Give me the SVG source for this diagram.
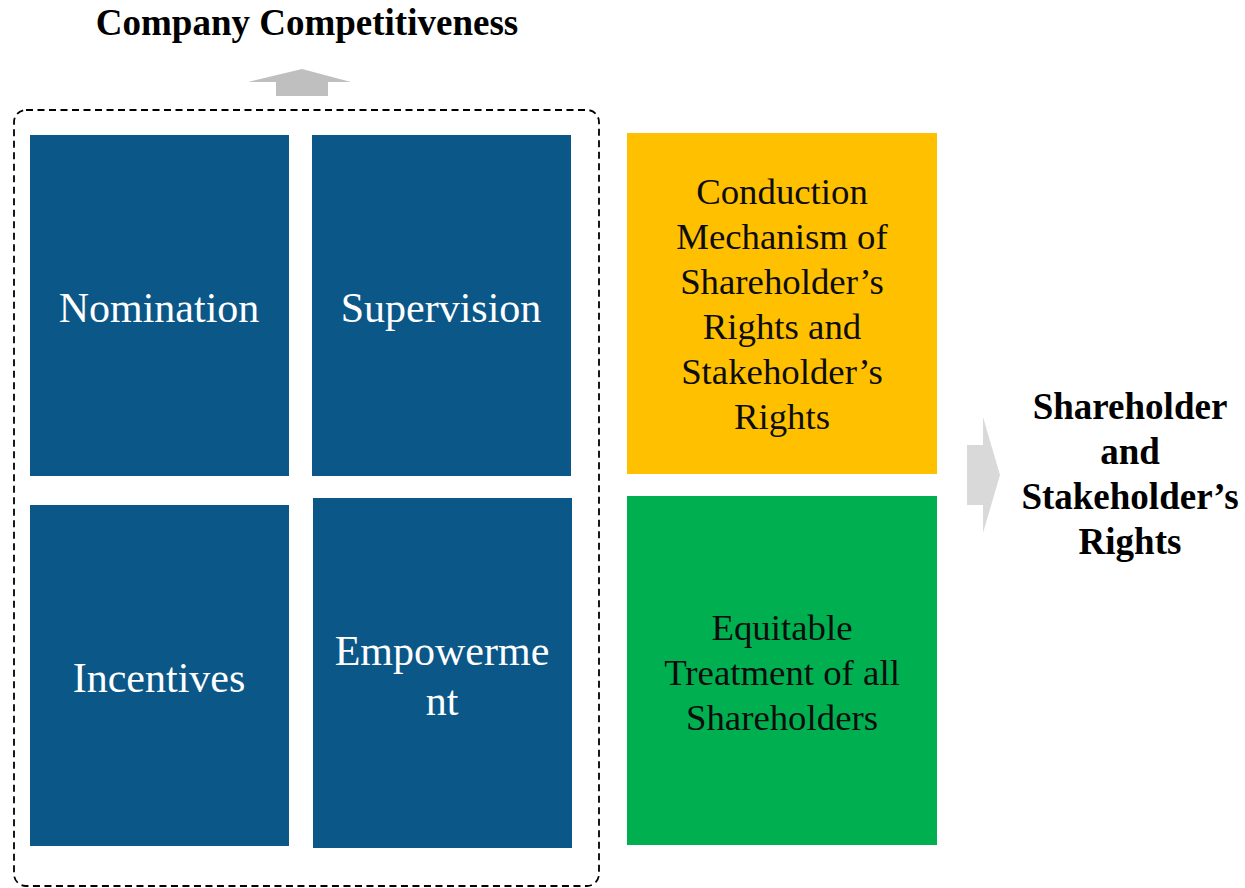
<svg xmlns="http://www.w3.org/2000/svg" width="1245" height="888" viewBox="0 0 1245 888">
<style>
.blue{fill:#0B5788}
.wt{font-family:"Liberation Serif",serif;font-size:42px;fill:#fff;text-anchor:middle}
.dt{font-family:"Liberation Serif",serif;font-size:36.8px;fill:#0d0d0d;text-anchor:middle}
.bt{font-family:"Liberation Serif",serif;font-size:37px;font-weight:bold;fill:#000;text-anchor:middle}
</style>
<rect width="1245" height="888" fill="#fff"/>
<g id="title"><text class="bt" x="307" y="35">Company Competitiveness</text></g>
<g id="connectors">
<polygon points="248,82 302,69 351,82 328,82 328,96 276,96 276,82" fill="#BFBFBF"/>
<polygon points="967,445 983,445 983,417 1000,475 983,533 983,505 967,505" fill="#D9D9D9"/>
</g>
<g id="group"><rect x="14" y="110" width="585" height="776" rx="12" fill="none" stroke="#000" stroke-width="1.8" stroke-dasharray="7,4.5"/></g>
<g id="nomination"><rect class="blue" x="30" y="135" width="259" height="341"/><text class="wt" x="159" y="322">Nomination</text></g>
<g id="supervision"><rect class="blue" x="312" y="135" width="259" height="341"/><text class="wt" x="441" y="322">Supervision</text></g>
<g id="incentives"><rect class="blue" x="30" y="505" width="259" height="341"/><text class="wt" x="159" y="692">Incentives</text></g>
<g id="empowerment"><rect class="blue" x="313" y="498" width="259" height="350"/><text class="wt" x="442" y="665">Empowerme</text><text class="wt" x="442" y="715">nt</text></g>
<g id="conduction"><rect x="627" y="133" width="310" height="341" fill="#FFC000"/>
<text class="dt" x="782" y="204">Conduction</text>
<text class="dt" x="782" y="249">Mechanism of</text>
<text class="dt" x="782" y="294">Shareholder’s</text>
<text class="dt" x="782" y="339">Rights and</text>
<text class="dt" x="782" y="384">Stakeholder’s</text>
<text class="dt" x="782" y="429">Rights</text></g>
<g id="equitable"><rect x="627" y="496" width="310" height="349" fill="#00B050"/>
<text class="dt" x="782" y="640">Equitable</text>
<text class="dt" x="782" y="685">Treatment of all</text>
<text class="dt" x="782" y="730">Shareholders</text></g>
<g id="rights">
<text class="bt" x="1130" y="419">Shareholder</text>
<text class="bt" x="1130" y="464">and</text>
<text class="bt" x="1130" y="509">Stakeholder’s</text>
<text class="bt" x="1130" y="554">Rights</text></g>
</svg>
